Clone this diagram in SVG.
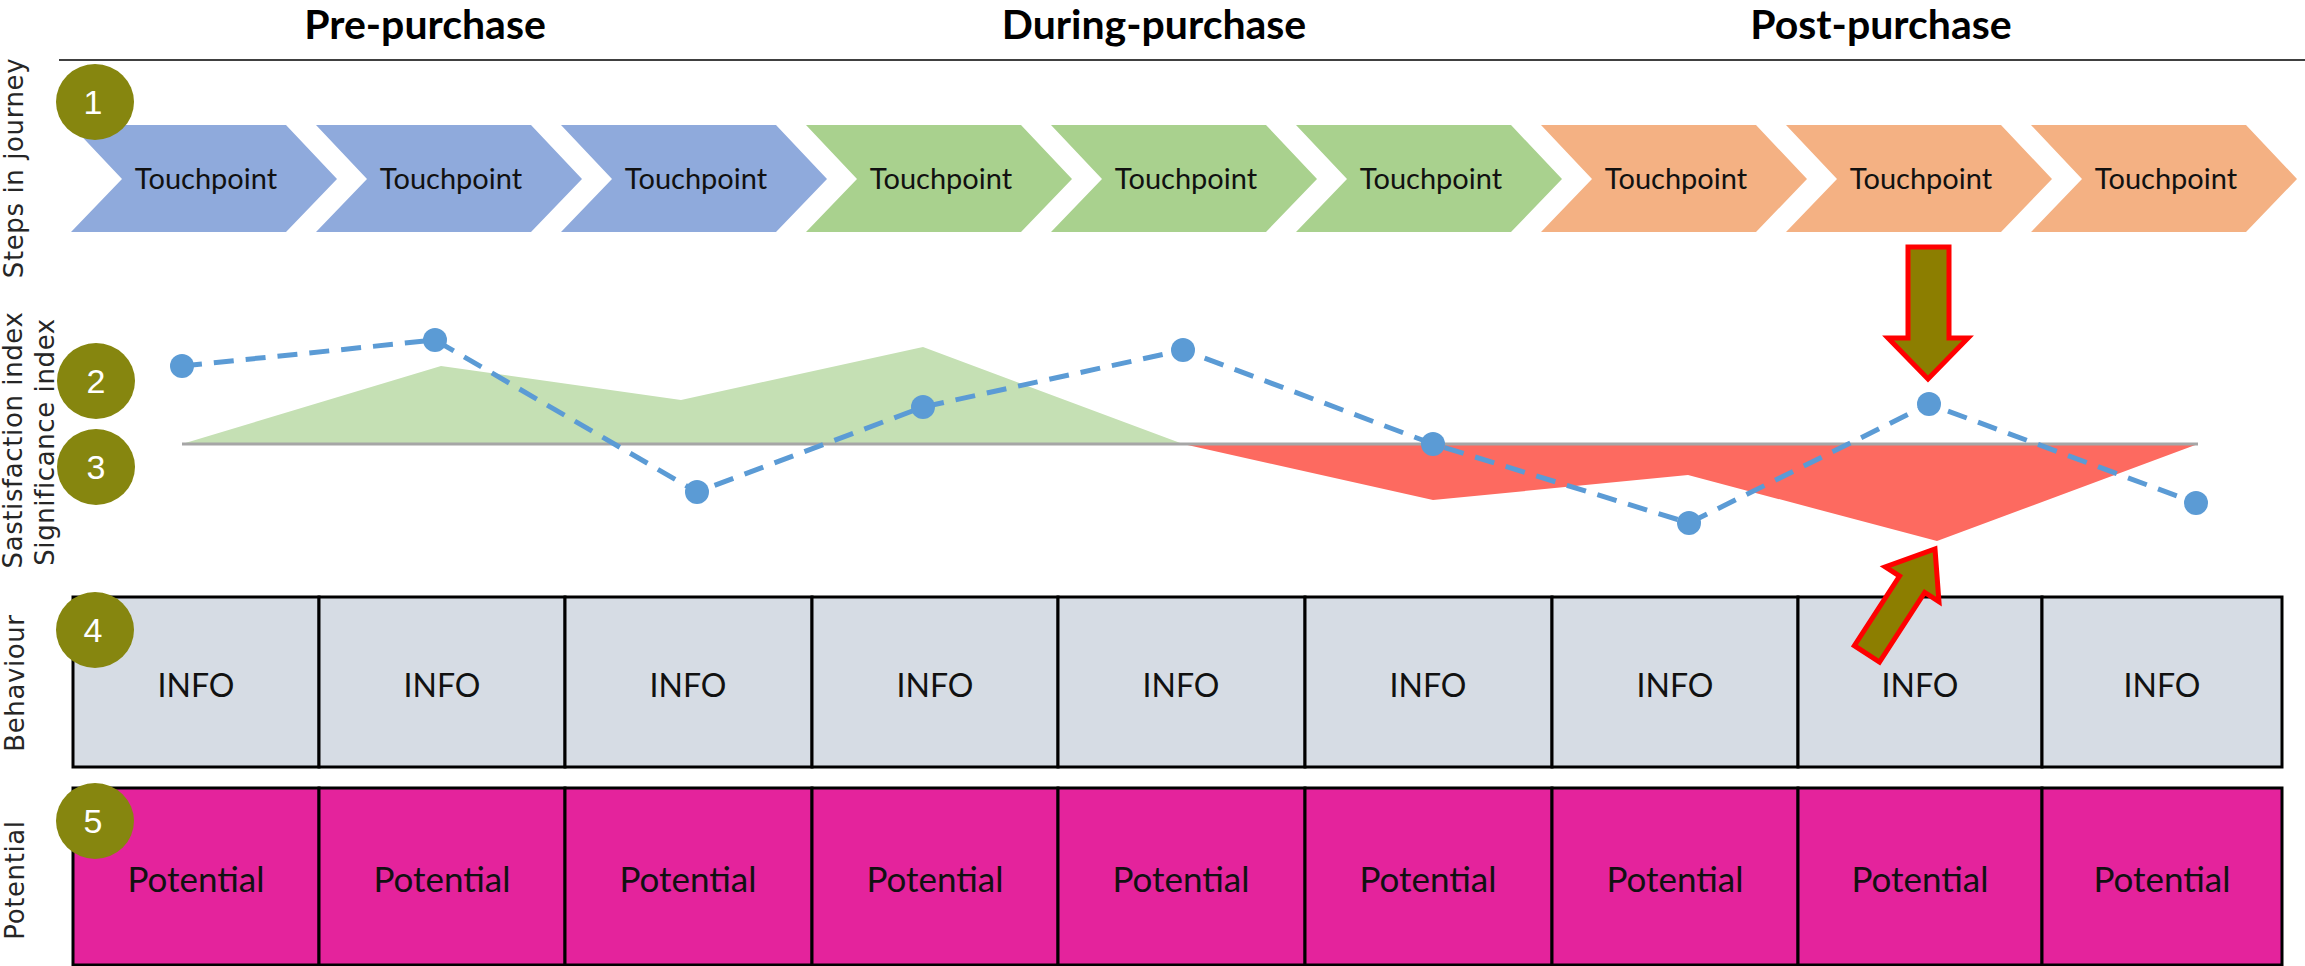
<svg xmlns="http://www.w3.org/2000/svg" width="2305" height="966" viewBox="0 0 2305 966">
  <style>
    .hdr { font-family: Lato, "Liberation Sans", sans-serif; font-weight: bold; font-size: 41px; fill: #000; text-anchor: middle; }
    .side { font-family: "DejaVu Sans", "Liberation Sans", sans-serif; font-size: 26px; letter-spacing: 0.6px; fill: #262626; text-anchor: middle; }
    .tp { font-family: Lato, "Liberation Sans", sans-serif; font-size: 29px; fill: #111; text-anchor: middle; }
    .cell { font-family: Lato, "Liberation Sans", sans-serif; font-size: 32px; fill: #111; text-anchor: middle; }
    .pot .cell { font-size: 35px; }
    .badge ellipse { fill: #86860F; }
    .badge text { font-family: "Liberation Sans", sans-serif; font-size: 34px; fill: #fff; text-anchor: middle; }
    .blue { fill: #8FAADC; }
    .green { fill: #A9D18E; }
    .orange { fill: #F4B183; }
    .info rect { fill: #D6DCE4; stroke: #000; stroke-width: 3; }
    .pot rect { fill: #E4239C; stroke: #000; stroke-width: 3; }
    .callout { fill: #8C7E00; stroke: #FF0000; stroke-width: 5; stroke-linejoin: miter; }
  </style>
  <defs>
    <path id="chev" d="M0,125 L215,125 L266,179 L215,232 L0,232 L51,179 Z"/>
  </defs>

  <rect width="2305" height="966" fill="#fff"/>

  <!-- phase headings -->
  <g id="headings">
    <text class="hdr" x="425" y="39">Pre-purchase</text>
    <text class="hdr" x="1154" y="39">During-purchase</text>
    <text class="hdr" x="1881" y="39">Post-purchase</text>
    <line x1="59" y1="60" x2="2305" y2="60" stroke="#404040" stroke-width="2"/>
  </g>

  <!-- row labels -->
  <g id="row-labels">
    <text class="side" transform="translate(23,168) rotate(-90)">Steps in journey</text>
    <text class="side" transform="translate(22,440) rotate(-90)">Sastisfaction index</text>
    <text class="side" transform="translate(54,442) rotate(-90)">Significance index</text>
    <text class="side" transform="translate(24,683) rotate(-90)">Behaviour</text>
    <text class="side" transform="translate(24,880) rotate(-90)">Potential</text>
  </g>

  <!-- touchpoint chevrons -->
  <g id="tp1"><use href="#chev" x="71" class="blue"/><text class="tp" x="206" y="189">Touchpoint</text></g>
  <g id="tp2"><use href="#chev" x="316" class="blue"/><text class="tp" x="451" y="189">Touchpoint</text></g>
  <g id="tp3"><use href="#chev" x="561" class="blue"/><text class="tp" x="696" y="189">Touchpoint</text></g>
  <g id="tp4"><use href="#chev" x="806" class="green"/><text class="tp" x="941" y="189">Touchpoint</text></g>
  <g id="tp5"><use href="#chev" x="1051" class="green"/><text class="tp" x="1186" y="189">Touchpoint</text></g>
  <g id="tp6"><use href="#chev" x="1296" class="green"/><text class="tp" x="1431" y="189">Touchpoint</text></g>
  <g id="tp7"><use href="#chev" x="1541" class="orange"/><text class="tp" x="1676" y="189">Touchpoint</text></g>
  <g id="tp8"><use href="#chev" x="1786" class="orange"/><text class="tp" x="1921" y="189">Touchpoint</text></g>
  <g id="tp9"><use href="#chev" x="2031" class="orange"/><text class="tp" x="2166" y="189">Touchpoint</text></g>

  <!-- significance areas and satisfaction line -->
  <g id="chart">
    <polygon points="182,444 441,366 681,400 923,347 1183,444" fill="#C5E0B4"/>
    <polygon points="1183,444 1433,500 1688,475 1937,541 2198,444" fill="#FD6A60"/>
    <line x1="182" y1="444" x2="2198" y2="444" stroke="#A6A6A6" stroke-width="3"/>
    <polyline points="182,366 435,340 697,492 923,407 1183,350 1433,444 1689,523 1929,404 2196,503"
              fill="none" stroke="#5B9BD5" stroke-width="5" stroke-dasharray="20 12"/>
    <g fill="#5B9BD5">
      <circle cx="182" cy="366" r="12"/>
      <circle cx="435" cy="340" r="12"/>
      <circle cx="697" cy="492" r="12"/>
      <circle cx="923" cy="407" r="12"/>
      <circle cx="1183" cy="350" r="12"/>
      <circle cx="1433" cy="444" r="12"/>
      <circle cx="1689" cy="523" r="12"/>
      <circle cx="1929" cy="404" r="12"/>
      <circle cx="2196" cy="503" r="12"/>
    </g>
  </g>

  <!-- behaviour row -->
  <g id="behaviour" class="info">
    <rect x="73" y="597" width="246" height="170"/>
    <rect x="319" y="597" width="246" height="170"/>
    <rect x="565" y="597" width="247" height="170"/>
    <rect x="812" y="597" width="246" height="170"/>
    <rect x="1058" y="597" width="247" height="170"/>
    <rect x="1305" y="597" width="247" height="170"/>
    <rect x="1552" y="597" width="246" height="170"/>
    <rect x="1798" y="597" width="244" height="170"/>
    <rect x="2042" y="597" width="240" height="170"/>
    <text class="cell" x="196" y="697">INFO</text>
    <text class="cell" x="442" y="697">INFO</text>
    <text class="cell" x="688" y="697">INFO</text>
    <text class="cell" x="935" y="697">INFO</text>
    <text class="cell" x="1181" y="697">INFO</text>
    <text class="cell" x="1428" y="697">INFO</text>
    <text class="cell" x="1675" y="697">INFO</text>
    <text class="cell" x="1920" y="697">INFO</text>
    <text class="cell" x="2162" y="697">INFO</text>
  </g>

  <!-- potential row -->
  <g id="potential" class="pot">
    <rect x="73" y="788" width="246" height="177"/>
    <rect x="319" y="788" width="246" height="177"/>
    <rect x="565" y="788" width="247" height="177"/>
    <rect x="812" y="788" width="246" height="177"/>
    <rect x="1058" y="788" width="247" height="177"/>
    <rect x="1305" y="788" width="247" height="177"/>
    <rect x="1552" y="788" width="246" height="177"/>
    <rect x="1798" y="788" width="244" height="177"/>
    <rect x="2042" y="788" width="240" height="177"/>
    <text class="cell" x="196" y="892">Potential</text>
    <text class="cell" x="442" y="892">Potential</text>
    <text class="cell" x="688" y="892">Potential</text>
    <text class="cell" x="935" y="892">Potential</text>
    <text class="cell" x="1181" y="892">Potential</text>
    <text class="cell" x="1428" y="892">Potential</text>
    <text class="cell" x="1675" y="892">Potential</text>
    <text class="cell" x="1920" y="892">Potential</text>
    <text class="cell" x="2162" y="892">Potential</text>
  </g>

  <!-- numbered badges -->
  <g id="badge1" class="badge"><ellipse cx="95" cy="102" rx="39" ry="38"/><text x="93" y="114">1</text></g>
  <g id="badge2" class="badge"><ellipse cx="96" cy="381" rx="39" ry="38"/><text x="96" y="393">2</text></g>
  <g id="badge3" class="badge"><ellipse cx="96" cy="467" rx="39" ry="38"/><text x="96" y="479">3</text></g>
  <g id="badge4" class="badge"><ellipse cx="95" cy="630" rx="39" ry="38"/><text x="93" y="642">4</text></g>
  <g id="badge5" class="badge"><ellipse cx="95" cy="821" rx="39" ry="38"/><text x="93" y="833">5</text></g>

  <!-- highlight arrows -->
  <g id="arrow-down">
    <polygon class="callout" points="1908,247 1949,247 1949,338 1968,338 1928,379 1888,338 1908,338"/>
  </g>
  <g id="arrow-up">
    <polygon class="callout" transform="translate(1935,549) rotate(33)"
             points="0,0 32,42 15,42 15,125 -15,125 -15,42 -32,42"/>
  </g>
</svg>
